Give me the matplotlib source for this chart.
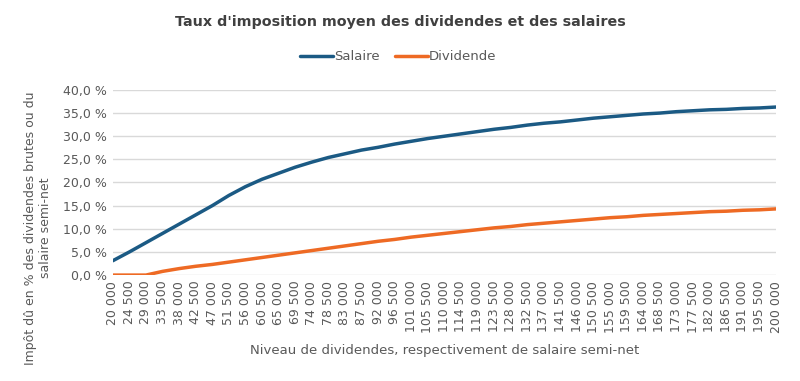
import numpy as np
import matplotlib
matplotlib.use("Agg")
import matplotlib.pyplot as plt
from matplotlib.ticker import FuncFormatter

# niveaux (dividendes / salaire semi-net)
niveaux = [20000 + 4500 * i for i in range(41)]
salaire = [3.1, 5.0, 7.0, 9.0, 11.0, 13.0, 15.0, 17.2, 19.1, 20.7,
           22.0, 23.3, 24.4, 25.4, 26.2, 27.0, 27.6, 28.3, 28.9, 29.5,
           30.0, 30.5, 31.0, 31.5, 31.9, 32.4, 32.8, 33.1, 33.5, 33.9,
           34.2, 34.5, 34.8, 35.0, 35.3, 35.5, 35.7, 35.8, 36.0, 36.1, 36.3]
dividende = [0.0, 0.0, 0.0, 0.8, 1.4, 1.9, 2.3, 2.8, 3.3, 3.8,
             4.3, 4.8, 5.3, 5.8, 6.3, 6.8, 7.3, 7.7, 8.2, 8.6,
             9.0, 9.4, 9.8, 10.2, 10.5, 10.9, 11.2, 11.5, 11.8, 12.1,
             12.4, 12.6, 12.9, 13.1, 13.3, 13.5, 13.7, 13.8, 14.0, 14.1, 14.3]

txt = '#595959'
fig = plt.figure(figsize=(8, 3.81), dpi=100)
ax = fig.add_axes([0.141, 0.278, 0.829, 0.486])

x = np.arange(len(niveaux))
ax.plot(x, salaire, color='#1B5A84', lw=2.5, label='Salaire', solid_capstyle='round')
ax.plot(x, dividende, color='#EE6A24', lw=2.5, label='Dividende', solid_capstyle='round')

ax.set_xlim(0, len(niveaux) - 1)
ax.set_ylim(0, 40)
ax.set_yticks(np.arange(0, 41, 5))
ax.yaxis.set_major_formatter(FuncFormatter(lambda v, p: '{:.1f} %'.format(v).replace('.', ',')))
ax.set_xticks(x)
ax.set_xticklabels(['{:,}'.format(n).replace(',', ' ') for n in niveaux], rotation=90)
ax.tick_params(axis='both', length=0, labelsize=9, labelcolor=txt, pad=4)
ax.grid(axis='y', color='#D9D9D9', lw=1)
ax.set_axisbelow(True)
for s in ax.spines.values():
    s.set_visible(False)

ax.set_xlabel('Niveau de dividendes, respectivement de salaire semi-net',
              fontsize=9.5, color=txt, labelpad=8)
fig.text(0.048, 1 - 228 / 381, "Impôt dû en % des dividendes brutes ou du\nsalaire semi-net",
         rotation=90, ha='center', va='center', multialignment='center',
         fontsize=9, color=txt)

fig.text(0.5, 1 - 22 / 381, "Taux d'imposition moyen des dividendes et des salaires",
         ha='center', va='center', fontsize=10.3, fontweight='bold', color='#404040')
fig.legend(loc='center', bbox_to_anchor=(0.498, 1 - 57 / 381), ncol=2, frameon=False,
           fontsize=9.5, handlelength=2.5, handletextpad=0.1, columnspacing=1.1,
           labelcolor=txt)

fig.savefig('out.png', dpi=100)
